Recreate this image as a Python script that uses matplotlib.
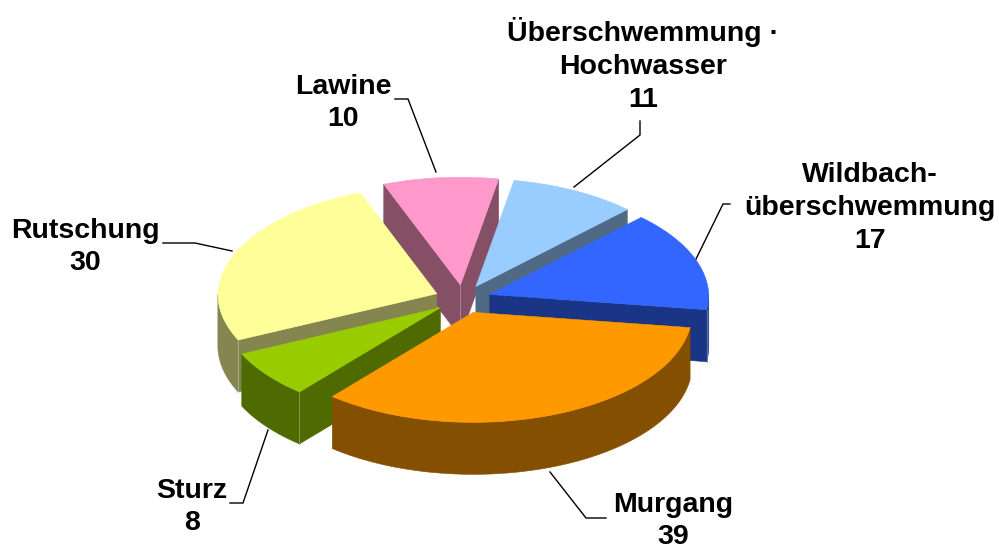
import numpy as np
import matplotlib
matplotlib.use("Agg")
import matplotlib.pyplot as plt
from matplotlib.patches import Polygon

# ---- data ----
categories = ["Lawine", "Überschwemmung ·\nHochwasser", "Wildbach-\nüberschwemmung",
              "Murgang", "Sturz", "Rutschung"]
values = [10, 11, 17, 39, 8, 30]

# ---- style ----
top_colors = ["#FF99CC", "#99CCFF", "#3366FF", "#FF9900", "#99CC00", "#FFFF99"]
side_colors = ["#854F65", "#506A85", "#1A3585", "#854F00", "#4F6A00", "#858550"]
draw_order = [0, 1, 5, 2, 4, 3]
start_angle = -21.0
cx, cy, rx, ry, depth, explode = 463.0, 299.0, 219.0, 110.0, 52.0, 0.13
label_pos = [(343, 103), (643, 65), (870, 208), (673, 521), (192, 507), (85, 247)]
leaders = [
    [(395, 99), (408, 99), (436, 172)],
    [(640, 121), (640, 135), (574, 187)],
    [(730, 204), (723, 204), (696, 259)],
    [(606, 518), (586, 518), (550, 472)],
    [(230, 503), (243, 503), (268, 430)],
    [(163, 243), (195, 243), (232, 251)],
]

fig = plt.figure(figsize=(9.99, 5.49), dpi=100, facecolor="white")
ax = fig.add_axes([0, 0, 1, 1])
ax.set_xlim(0, 999)
ax.set_ylim(549, 0)
ax.axis("off")

vals = np.asarray(values, dtype=float)
edges = start_angle + np.concatenate([[0], np.cumsum(vals)]) / vals.sum() * 360.0


def project(theta, r=1.0):
    t = np.radians(theta)
    back = np.maximum(np.cos(t), 0.0)
    return r * rx * (1 - 0.025 * back) * np.sin(t), -r * ry * (1 - 0.02 * back) * np.cos(t)


def lighten(hexcol, amount=0.35):
    rgb = np.array(matplotlib.colors.to_rgb(hexcol))
    return tuple(rgb + (1 - rgb) * amount)


for i in draw_order:
    z = 2 + draw_order.index(i)
    a0, a1 = edges[i], edges[i + 1]
    mid = 0.5 * (a0 + a1)
    ex, ey = project(mid, explode)
    px, py = cx + ex, cy + ey
    thetas = np.linspace(a0, a1, 120)
    ox, oy = project(thetas)
    xs = np.concatenate([[px], px + ox])
    ys = np.concatenate([[py], py + oy])
    n = len(xs)
    area = 0.5 * np.sum(xs * np.roll(ys, -1) - np.roll(xs, -1) * ys)
    orient = 1 if area > 0 else -1
    visible = [(-(xs[(k + 1) % n] - xs[k]) * orient) > 0 for k in range(n)]

    def face(idx):
        top = np.column_stack([xs[idx], ys[idx]])
        bottom = np.column_stack([xs[idx], ys[idx] + depth])[::-1]
        ax.add_patch(Polygon(np.vstack([top, bottom]), closed=True, facecolor=side_colors[i],
                             edgecolor=side_colors[i], lw=0.4, zorder=z))

    # the two cut faces
    if visible[0]:
        face(np.array([0, 1]))
    if visible[n - 1]:
        face(np.array([n - 1, 0]))
    # the rim, one polygon per run of visible segments
    k = 1
    while k < n - 1:
        if visible[k]:
            s = k
            while k < n - 1 and visible[k]:
                k += 1
            face(np.arange(s, k + 1))
        else:
            k += 1
    # thin light corner lines between side faces
    for k in (0, 1, n - 1):
        if visible[k] and visible[(k - 1) % n]:
            ax.plot([xs[k], xs[k]], [ys[k], ys[k] + depth], color=lighten(side_colors[i]),
                    lw=0.6, zorder=z + 0.1)
    ax.add_patch(Polygon(np.column_stack([xs, ys]), closed=True, facecolor=top_colors[i],
                         edgecolor=top_colors[i], lw=0.4, zorder=z + 0.2))

for pts in leaders:
    p = np.array(pts)
    ax.plot(p[:, 0], p[:, 1], color="black", lw=1.0, zorder=1, solid_joinstyle="miter")

for cat, val, (x, y) in zip(categories, values, label_pos):
    ax.text(x, y, f"{cat}\n{val}", ha="center", va="center", multialignment="center",
            family="Liberation Sans", fontweight="bold", fontsize=20.5, color="black",
            linespacing=1.33, zorder=20)

fig.savefig("out.png", dpi=100, facecolor="white")
